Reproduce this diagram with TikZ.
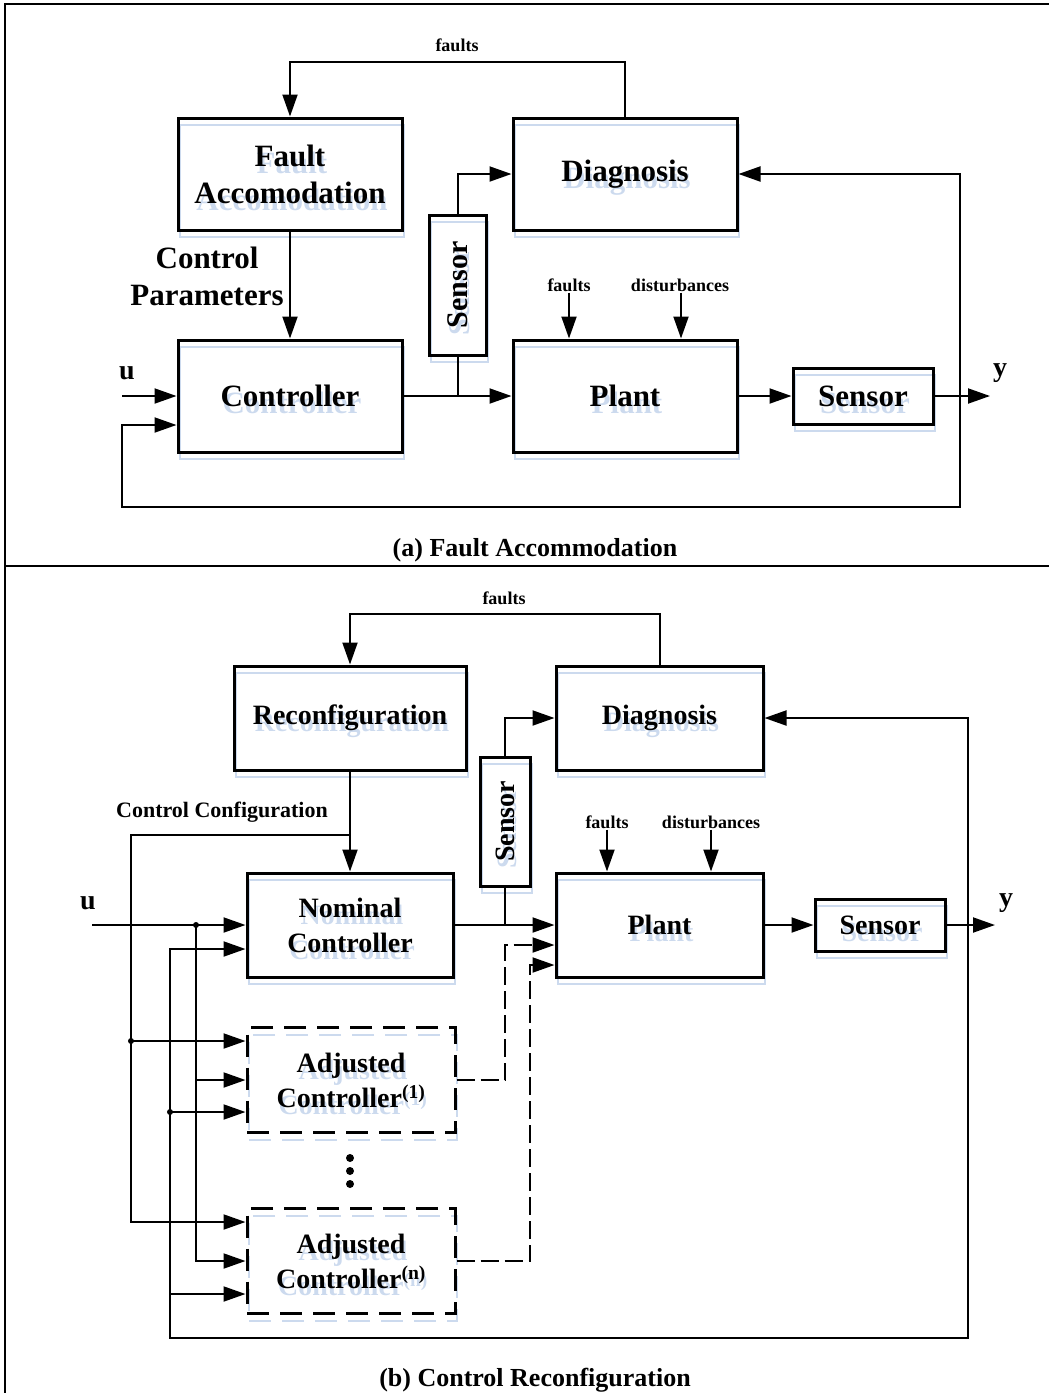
\documentclass[tikz,border=0pt]{standalone}
\usepackage{fontspec}
\setmainfont{Liberation Serif}
\usetikzlibrary{arrows.meta,calc}
\definecolor{shade}{RGB}{204,218,238}
\newcommand\fbig{\fontsize{31}{37}\selectfont\bfseries}
\newcommand\fmid{\fontsize{28}{35}\selectfont\bfseries}
\newcommand\fsmall{\fontsize{18}{21}\selectfont\bfseries}
\newcommand\fcap{\fontsize{26}{30}\selectfont\bfseries}
\newcommand\flab{\fontsize{22}{26}\selectfont\bfseries}
\tikzset{
  mbox/.style={draw, line width=3pt, align=center, inner sep=0pt, text=black, font=\fbig},
  shbox/.style={draw=shade, line width=2pt, align=center, inner sep=0pt, text=shade, font=\fbig},
  dashbox/.style={dash pattern=on 22pt off 11pt},
  conn/.style={line width=2pt},
  arr/.style={conn, -{Triangle[length=22pt,width=15pt]}},
  darr/.style={arr, dash pattern=on 18pt off 6pt},
  lab/.style={inner sep=1pt, font=\fsmall},
  dot/.style={circle, fill=black, inner sep=0pt, minimum size=6pt},
  frame/.style={line width=2pt}
}
% block with a pale offset copy behind it
\newcommand\blockat[6][]{%
  \node[shbox,minimum width=#4pt,minimum height=#5pt,#1] (#2-sh) at ($(#3)+(2,7)$) {#6};
  \node[mbox,minimum width=#4pt,minimum height=#5pt,#1] (#2) at (#3) {#6};}
\begin{document}
\begin{tikzpicture}[x=1pt,y=-1pt]
\useasboundingbox (0,0) rectangle (1049,1393);
% outer frame and divider
\draw[frame] (5,1393) -- (5,4) -- (1049,4);
\draw[frame] (5,566) -- (1049,566);

% ---------------- (a) fault accommodation ----------------
\blockat{fa}{290,174}{224}{112}{Fault\\Accomodation}
\blockat{diag}{625,174}{224}{112}{Diagnosis}
\blockat{ctrl}{290,396}{224}{112}{Controller}
\blockat{plant}{625,396}{224}{112}{Plant}
\blockat[rotate=90,font=\fontsize{30}{36}\selectfont\bfseries]{sensv}{457.5,285}{140}{57}{Sensor}
\blockat{sens}{863,396}{140}{56}{Sensor}

\node[lab] (fltA) at (457,45) {faults};
\node[lab] (fltP) at (569,285) {faults};
\node[lab] (dstP) at (680,285) {disturbances};
\node[font=\fbig, align=center, inner sep=0pt] (cpar) at (207,276) {Control\\Parameters};
\node[font=\fmid, inner sep=0pt] (ulab) at (127,373) {u};
\node[font=\fmid, inner sep=0pt] (ylab) at (1000,373) {y};
\node[font=\fcap, inner sep=0pt] (capa) at (535,550) {(a) Fault Accommodation};

\coordinate (uin) at (122,396);
\coordinate (yend) at (990,396);
\coordinate (fb) at (960,396);
\coordinate (fbl) at (122,507);

\draw[arr] (diag.north) -- ++(0,-55) -| (fa.north);
\draw[arr] (fa) -- (ctrl);
\draw[arr] (uin) -- (ctrl);
\draw[arr] (ctrl) -- (plant);
\draw[conn] (sensv) -- (sensv |- ctrl);
\draw[arr] (sensv) |- (diag);
\draw[arr] (fltP.south) -- (fltP.south |- plant.north);
\draw[arr] (dstP.south -| 681,0) -- (681,0 |- plant.north);
\draw[arr] (plant) -- (sens);
\draw[arr] (sens) -- (yend);
\draw[arr] (fb) |- (diag);
\draw[arr] (fb) |- (fbl) |- ($(ctrl.west)+(0,29)$);

% ---------------- (b) control reconfiguration ----------------
\blockat[font=\fmid]{rec}{350,718}{232}{104}{Reconfiguration}
\blockat[font=\fmid]{diagb}{659.5,718}{207}{104}{Diagnosis}
\blockat[font=\fmid]{nom}{350,925}{206}{104}{Nominal\\Controller}
\blockat[font=\fmid]{plantb}{659.5,925}{207}{104}{Plant}
\blockat[font=\fmid]{sensb}{880,925}{130}{52}{Sensor}
\blockat[rotate=90,font=\fmid]{sensvb}{505,821.5}{129}{50}{Sensor}
\blockat[font=\fmid,dashbox]{adj1}{351,1080}{208}{105}{Adjusted\\Controller\textsuperscript{(1)}}
\blockat[font=\fmid,dashbox]{adjn}{351,1261}{208}{105}{Adjusted\\Controller\textsuperscript{(n)}}

\node[dot, minimum size=8pt] (d1) at (350,1158) {};
\node[dot, minimum size=8pt] (d2) at (350,1171) {};
\node[dot, minimum size=8pt] (d3) at (350,1184) {};

\node[lab] (fltB) at (504,598) {faults};
\node[lab] (fltQ) at (607,822) {faults};
\node[lab] (dstQ) at (711,822) {disturbances};
\node[font=\flab, inner sep=0pt] (ccfg) at (222,812) {Control Configuration};
\node[font=\fmid, inner sep=0pt] (ulabb) at (88,903) {u};
\node[font=\fmid, inner sep=0pt] (ylabb) at (1006,903) {y};
\node[font=\fcap, inner sep=0pt] (capb) at (535,1380) {(b) Control Reconfiguration};

\coordinate (uinb) at (92,925);
\coordinate (yendb) at (995,925);
\coordinate (fbb) at (968,925);
\coordinate (fbbl) at (170,1338);
\coordinate (cc) at (350,835);
\coordinate (ccl) at (131,835);
\node[dot] (ju) at (196,925) {};
\node[dot] (jc) at (131,1041) {};
\node[dot] (jf) at (170,1112) {};

\draw[arr] (diagb.north) -- ++(0,-51) -| (rec.north);
\draw[arr] (rec) -- (nom);
\draw[arr] (uinb) -- (nom);
\draw[arr] (nom) -- (plantb);
\draw[conn] (sensvb) -- (sensvb |- nom);
\draw[arr] (sensvb) |- (diagb);
\draw[arr] (fltQ.south) -- (fltQ.south |- plantb.north);
\draw[arr] (dstQ.south) -- (dstQ.south |- plantb.north);
\draw[arr] (plantb) -- (sensb);
\draw[arr] (sensb) -- (yendb);
\draw[arr] (fbb) |- (diagb);
\draw[arr] (fbb) |- (fbbl) |- ($(nom.west)+(0,24)$);

% configuration line to the controller bank
\draw[arr] (cc) -- (ccl) |- ($(adjn.west)+(0,-39)$);
\draw[arr] (jc.center) -- ($(adj1.west)+(0,-39)$);
% input u to the controller bank
\draw[arr] (ju.center) |- (adjn.west);
\draw[arr] (ju.center |- adj1.west) -- (adj1.west);
% measured output to the controller bank
\draw[arr] (jf.center) -- ($(adj1.west)+(0,32)$);
\draw[arr] (fbbl -| jf) ++(0,-44) -- ($(adjn.west)+(0,33)$);

% adjusted controller outputs to the plant
\draw[darr] (adj1.east) -| (505,945) -- ($(plantb.west)+(0,20)$);
\draw[darr] (adjn.east) -| (530,965) -- ($(plantb.west)+(0,40)$);
\end{tikzpicture}
\end{document}
